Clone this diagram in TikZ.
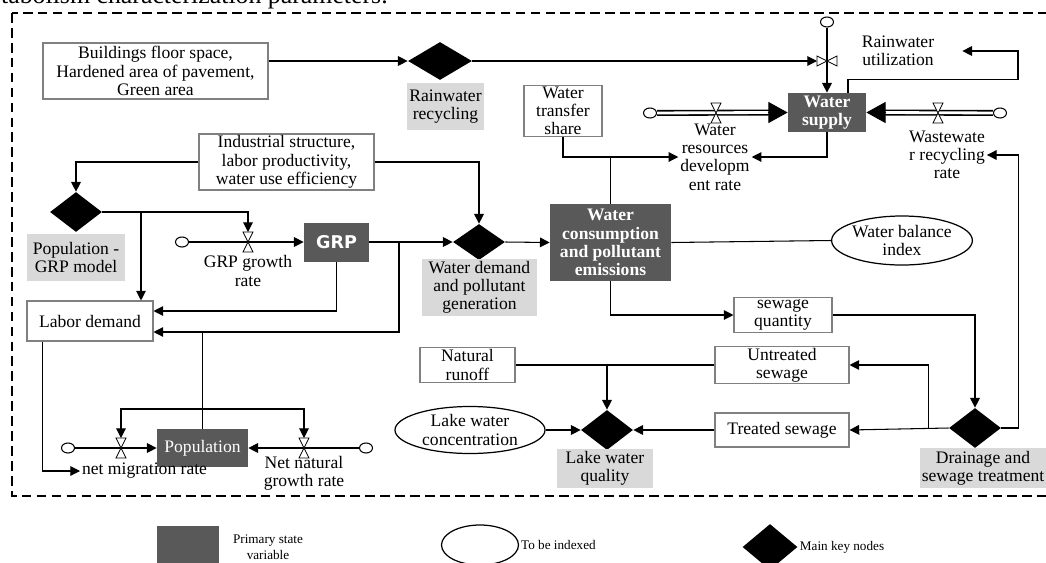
\documentclass[tikz,border=0pt]{standalone}
\usepackage{fontspec}
\setmainfont{Liberation Serif}
\newfontfamily\grpfont{DejaVu Sans}
\usetikzlibrary{positioning, calc, arrows.meta, shapes.geometric}

\definecolor{darkbox}{RGB}{89,89,89}
\definecolor{lightlbl}{RGB}{217,217,217}
\newcommand{\pxu}{0.02cm}

\begin{document}
\begin{tikzpicture}[x=0.02cm, y=-0.02cm,
    ln/.style={line width=0.6pt},
    arr/.style={ln, -{Triangle[length=5.5pt, width=5.5pt]}},
    bigarr/.style={ln, -{Triangle[length=11pt, width=12pt]}},
    pipe/.style={double, line width=0.9pt, double distance=1.6pt},
    wbox/.style={draw=gray, line width=0.6pt, fill=white, align=center, inner sep=1pt},
    sbox/.style={fill=darkbox, text=white, align=center, inner sep=1pt},
    glabel/.style={fill=lightlbl, align=center, inner sep=1pt},
    keynode/.style={diamond, fill=black, inner sep=0pt, minimum width=52*\pxu, minimum height=40*\pxu},
    idx/.style={ellipse, draw, line width=0.7pt, fill=white, align=center, inner sep=0pt},
    cloud0/.style={ellipse, draw, line width=0.6pt, fill=white, inner sep=0pt, minimum width=13*\pxu, minimum height=10*\pxu},
    valve/.style={draw, fill=white, line width=0.5pt},
    dashframe/.style={line width=0.6pt, dash pattern=on 5.5pt off 3pt},
    legtext/.style={font=\fontsize{7.5}{9}\selectfont, inner sep=1pt}]

    \fontsize{10}{10.4}\selectfont
    \useasboundingbox (0,0) rectangle (1046,562);
    \clip (0,0) rectangle (1046,562);

    % caption line cut off at the top
    \node[anchor=base east, inner sep=0pt, font=\fontsize{14.7}{16}\selectfont] (cap) at (388,3)
        {metabolism characterization parameters.};

    % dashed frame
    \draw[dashframe] (12,13) rectangle (1070,496);

    % rainwater part
    \node[wbox, minimum width=225*\pxu, minimum height=56*\pxu] (bldg) at (155.5,71)
        {Buildings floor space,\\Hardened area of pavement,\\Green area};
    \node[keynode, minimum width=64*\pxu, minimum height=38*\pxu] (rainD) at (440,61) {};
    \node[glabel, minimum width=77*\pxu, minimum height=47*\pxu] (rainL) at (445.5,106.5) {Rainwater\\recycling};
    \node[cloud0] (cRU) at (827,22) {};
    \coordinate (vRU) at (827,61);
    \node[align=center, inner sep=1pt, minimum width=128*\pxu] (ruL) at (898,51) {Rainwater\\utilization};

    % water supply
    \node[sbox, font=\bfseries, minimum width=78*\pxu, minimum height=39*\pxu] (ws) at (827,112.5) {Water\\supply};
    \node[cloud0] (cDev) at (650,113) {};
    \coordinate (vDev) at (716,113);
    \node[align=center, inner sep=1pt] (devL) at (715,157) {Water\\resources\\developm\\ent rate};
    \node[cloud0] (cRec) at (1000,113) {};
    \coordinate (vRec) at (938,113);
    \node[align=center, inner sep=1pt] (recL) at (947,155) {Wastewate\\r recycling\\rate};
    \node[wbox, minimum width=78*\pxu, minimum height=50*\pxu] (wts) at (563,111) {Water\\transfer\\share};

    % economy part
    \node[wbox, minimum width=175*\pxu, minimum height=52*\pxu] (ind) at (286.5,162)
        {Industrial structure,\\labor productivity,\\water use efficiency};
    \node[keynode] (popD) at (76,212) {};
    \node[glabel, minimum width=98*\pxu, minimum height=47*\pxu] (popL) at (76,257.5) {Population -\\GRP model};
    \node[cloud0] (cGRP) at (182,242) {};
    \coordinate (vGRP) at (248,242);
    \node[align=center, inner sep=1pt] (grpL) at (248,271) {GRP growth\\rate};
    \node[sbox, font=\grpfont\bfseries, minimum width=65*\pxu, minimum height=39*\pxu] (grp) at (336.5,242) {GRP};
    \node[keynode, minimum height=36*\pxu] (wdD) at (479,242) {};
    \node[glabel, minimum width=115*\pxu, minimum height=49*\pxu] (wdL) at (479.5,287.5)
        {Water demand\\and pollutant\\generation};
    \node[sbox, font=\bfseries, minimum width=121*\pxu, minimum height=77*\pxu] (wc) at (610.5,242.5)
        {Water\\consumption\\and pollutant\\emissions};
    \node[idx, minimum width=134*\pxu, minimum height=49*\pxu] (wbi) at (902,240.5) {Water balance\\index};
    \node[wbox, minimum width=126*\pxu, minimum height=40*\pxu] (labor) at (90,321) {Labor demand};

    % population
    \node[sbox, minimum width=91*\pxu, minimum height=38*\pxu] (pop) at (202.5,448) {Population};
    \node[cloud0] (cMig) at (68,448) {};
    \coordinate (vMig) at (121,448);
    \node[cloud0] (cNat) at (366,448) {};
    \coordinate (vNat) at (304,448);
    \node[anchor=west, inner sep=1pt] (migL) at (80,471) {net migration rate};
    \node[align=center, inner sep=1pt] (natL) at (304,473) {Net natural\\growth rate};

    % sewage and lake
    \node[wbox, minimum width=98*\pxu, minimum height=34*\pxu] (sq) at (783,315) {sewage\\quantity};
    \node[wbox, minimum width=95*\pxu, minimum height=34*\pxu] (nr) at (467.5,365) {Natural\\runoff};
    \node[wbox, minimum width=134*\pxu, minimum height=34*\pxu] (us) at (782,365) {Untreated\\sewage};
    \node[idx, minimum width=150*\pxu, minimum height=47*\pxu] (lwc) at (470,430) {Lake water\\concentration};
    \node[keynode] (lqD) at (607,430) {};
    \node[glabel, minimum width=96*\pxu, minimum height=39*\pxu] (lqL) at (605,468.5) {Lake water\\quality};
    \node[wbox, minimum width=134*\pxu, minimum height=34*\pxu] (ts) at (782,430) {Treated sewage};
    \node[keynode] (drD) at (975,428) {};
    \node[glabel, minimum width=122*\pxu, minimum height=40*\pxu] (drL) at (983,468) {Drainage and\\sewage treatment};

    % connectors, top
    \draw[arr] (bldg.east |- rainD.west) -- (rainD.west);
    \draw[arr] (rainD.east) -- ($(vRU)+(-10,0)$);
    \draw[arr] (cRU) -- (ws.north);
    \draw[arr] ($(ws.north)+(21,0)$) -- ++(0,-13) -- ++(170,0) |- (ruL.east);
    \draw[pipe] (cDev) -- ($(ws.west)+(-18,0)$);
    \draw[bigarr] ($(ws.west)+(-20,0)$) -- (ws.west);
    \draw[pipe] (cRec) -- ($(ws.east)+(18,0)$);
    \draw[bigarr] ($(ws.east)+(20,0)$) -- (ws.east);
    \draw[arr] (wts.south) |- (devL.west);
    \draw[arr] (ws.south) |- (devL.east);
    \draw[ln] (wc.north) -- (wc.north |- devL.west);
    \draw[arr] (drD.east) -- ++(17,0) |- (recL.east);

    % connectors, economy and population
    \draw[arr] (ind.west) -| (popD.north);
    \draw[arr] (ind.east) -| (wdD.north);
    \draw[arr] (popD.east) -| ($(vGRP)+(0,-10)$);
    \coordinate (jPop) at (141,212);
    \draw[arr] (jPop) -- (jPop |- labor.north);
    \draw[arr] (cGRP) -- (grp);
    \draw[arr] (grp.east) -- (wdD.west);
    \draw[arr] (grp.south) |- ($(labor.east)+(0,-10)$);
    \coordinate (jGrp) at (399,242);
    \coordinate (labIn) at ($(labor.east)+(0,11)$);
    \draw[arr] (jGrp) |- (labIn);
    \draw[ln] (pop.north) -- (pop.north |- labIn);
    \coordinate (popFb) at (202.5,409);
    \draw[arr] (popFb) -| ($(vMig)+(0,-10)$);
    \draw[arr] (popFb) -| ($(vNat)+(0,-10)$);
    \draw[arr] (cMig) -- (pop);
    \draw[arr] (cNat) -- (pop);
    \draw[arr] ($(labor.south west)+(16,0)$) |- (migL.west);
    \draw[arr] (wdD.east) -- (wc.west);
    \draw[ln] (wc.east) -- (wbi.west);

    % connectors, sewage and lake
    \draw[arr] (wc.south) |- (sq.west);
    \draw[arr] (sq.east) -| (drD.north);
    \draw[arr] (drD.west) -- (ts.east);
    \draw[arr] ($(drD.west)+(-20,0)$) |- (us.east);
    \draw[ln] (nr.east) -- (us.west);
    \draw[arr] (lqD.north |- nr.east) -- (lqD.north);
    \draw[arr] (lwc.east) -- (lqD.west);
    \draw[arr] (ts.west) -- (lqD.east);

    % valves
    \foreach \v in {vGRP, vMig, vNat, vDev, vRec}{
        \draw[valve] ($(\v)+(-5,-10)$) -- ++(10,0) -- ++(-10,20) -- ++(10,0) -- cycle;
    }
    \draw[valve] ($(vRU)+(-10,-5)$) -- ++(0,10) -- ++(20,-10) -- ++(0,10) -- cycle;

    % legend
    \node[fill=darkbox, anchor=north west, minimum width=62*\pxu, minimum height=46*\pxu] (lgS) at (157,526) {};
    \node[legtext, align=center] (lgSt) at (268,547) {Primary state\\variable};
    \node[idx, minimum width=77*\pxu, minimum height=40*\pxu] (lgE) at (480,545) {};
    \node[legtext, anchor=west] (lgEt) at (lgE.east) {To be indexed};
    \node[keynode, minimum width=55*\pxu, minimum height=46*\pxu] (lgD) at (770,547) {};
    \node[legtext, anchor=west] (lgDt) at (lgD.east) {Main key nodes};

\end{tikzpicture}
\end{document}
